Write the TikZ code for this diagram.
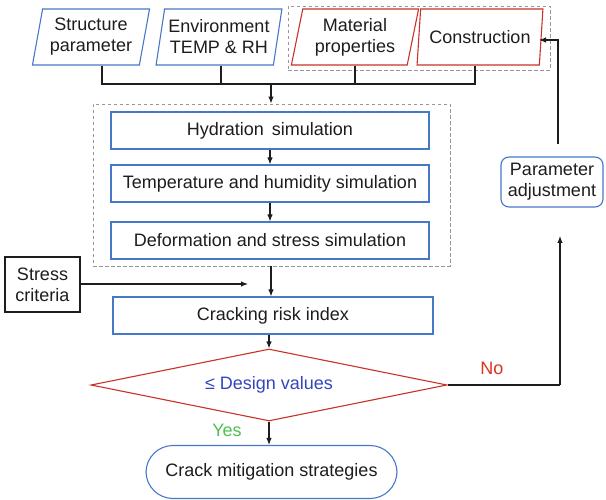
\documentclass[tikz,border=0pt]{standalone}
\usepackage{fontspec}
\setmainfont{Liberation Sans}
\usetikzlibrary{shapes.geometric,arrows.meta,calc}
\definecolor{bblue}{RGB}{70,120,200}
\definecolor{rred}{RGB}{200,50,40}
\definecolor{dblue}{RGB}{50,70,190}
\definecolor{ygreen}{RGB}{80,190,80}
\definecolor{nred}{RGB}{220,50,30}
\definecolor{dgray}{RGB}{150,150,150}
\definecolor{txt}{RGB}{30,28,28}
\definecolor{lineblack}{RGB}{30,28,28}
\begin{document}
\begin{tikzpicture}[x=1pt,y=-1pt,
  font=\fontsize{18}{21}\selectfont, text=txt,
  every node/.style={inner sep=0pt, align=center},
  para/.style={trapezium, trapezium left angle=77, trapezium right angle=103,
    trapezium stretches=true, minimum height=56pt, line width=1.1pt},
  sbox/.style={rectangle, draw=bblue, line width=1.1pt, minimum height=37pt, minimum width=318pt},
  grp/.style={draw=dgray, dash pattern=on 3.5pt off 2.5pt, line width=0.9pt},
  arr/.style={-{Latex[length=7pt,width=5.5pt]}, line width=1.1pt, draw=lineblack},
  ln/.style={line width=1.1pt, draw=lineblack}]
\useasboundingbox (0,0) rectangle (606,500);

% top row
\node[grp, minimum width=262pt, minimum height=64pt] (g1) at (419,38) {};
\node[para, draw=bblue, minimum width=118pt] (s) at (91,37) {Structure\\parameter};
\node[para, draw=bblue, minimum width=126pt] (e) at (219,37) {Environment\\TEMP \& RH};
\node[para, draw=rred, minimum width=128pt] (m) at (355,37) {Material\\properties};
\node[para, draw=rred, minimum width=126pt] (c) at (480,37) {Construction};

% bus
\coordinate (b1) at (102,84);
\coordinate (b2) at (221,84);
\coordinate (b3) at (355,84);
\coordinate (b4) at (475,84);
\coordinate (bm) at (271,84);

% middle group
\node[grp, minimum width=357pt, minimum height=162pt] (g2) at (271.5,185) {};
\node[sbox] (h) at (270,130.5) {Hydration\, simulation};
\node[sbox] (t) at (270,183.5) {Temperature and humidity simulation};
\node[sbox] (d) at (270,240.5) {Deformation and stress simulation};

\draw[ln] (s.south -| b1) -- (b1) -- (b4) -- (c.south -| b4);
\draw[ln] (e.south -| b2) -- (b2);
\draw[ln] (m.south -| b3) -- (b3);
\draw[arr] (bm) -- (bm |- g2.north);
\draw[arr] (h.south) -- (t.north);
\draw[arr] (t.south) -- (d.north);

% stress criteria
\node[draw=lineblack, line width=1.1pt, minimum width=75pt, minimum height=55pt] (st) at (42.5,284.5) {Stress\\criteria};
\coordinate (sa) at (248,284);
\draw[arr] (st.east |- sa) -- (sa);

% cracking risk index
\node[sbox, minimum width=320pt] (cr) at (273,315.5) {Cracking risk index};
\coordinate (cm1) at (271,266);
\draw[arr] (cm1 |- g2.south) -- (cm1 |- cr.north);

% decision
\node[diamond, draw=rred, line width=1.1pt, minimum width=356pt, minimum height=72pt,
  aspect=4.9, text=dblue] (dv) at (269,385) {≤ Design values};
\draw[arr] (cr.south -| dv.north) -- (dv.north);

% crack mitigation
\node[draw=bblue, line width=1.1pt, rounded corners=27pt, minimum width=251pt,
  minimum height=53pt] (cmit) at (271.5,472) {Crack mitigation strategies};
\draw[arr] (dv.south) -- (dv.south |- cmit.north);
\node[text=ygreen] (yes) at (227,430) {Yes};

% No branch
\node[text=nred] (no) at (492,368) {No};
\coordinate (nc) at (560,385);
\coordinate (pu) at (560,236);
\draw[ln] (dv.east) -- (nc);
\draw[arr] (nc) -- (pu);

% parameter adjustment
\node[draw=bblue, line width=1.1pt, rounded corners=8pt, minimum width=102pt,
  minimum height=50pt] (pa) at (552,182) {Parameter\\adjustment};
\coordinate (ft) at (558,40);
\coordinate (fa) at (539,40);
\draw[arr] ($(pa.north -| ft)+(0,-12)$) -- (ft) -- (fa);
\end{tikzpicture}
\end{document}
